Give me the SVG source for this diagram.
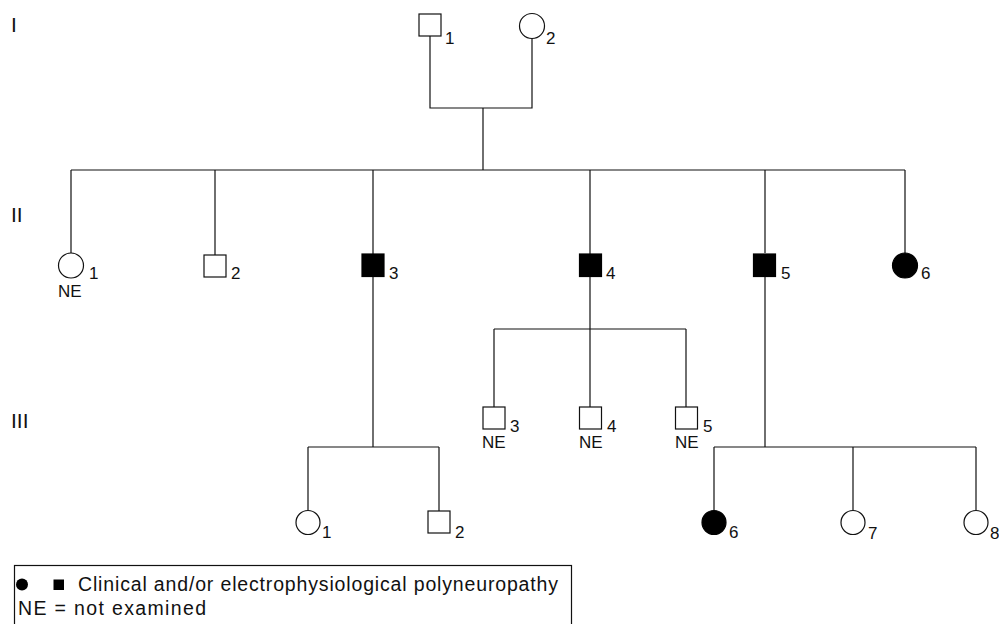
<svg xmlns="http://www.w3.org/2000/svg" width="999" height="624" viewBox="0 0 999 624">
<style>
.ln{stroke:#111;stroke-width:1.2;fill:none}
.o{fill:#fff;stroke:#111;stroke-width:1.2}
.f{fill:#000;stroke:#000;stroke-width:1.2}
text{font-family:"Liberation Sans",Arial,sans-serif;fill:#111}
.lb{font-size:17px}
.gen{font-size:21px}
.lg{font-size:19.5px}
</style>
<rect width="999" height="624" fill="#fff"/>
<g id="generations">
<text class="gen" x="11" y="32">I</text>
<text class="gen" x="11" y="222">II</text>
<text class="gen" x="11" y="428">III</text>
</g>
<g id="connectors">
<path class="ln" d="M430,36V108H532V38M483,108V170M71,170H905M71,170V253M215,170V255M373,170V254M590,170V254M765,170V253M905,170V253"/>
<path class="ln" d="M373,277V447M308,447H439M308,447V510M439,447V511"/>
<path class="ln" d="M590,277V407M494,329H686M494,329V407M686,329V407"/>
<path class="ln" d="M765,277V447M714,447H976M714,447V510M853,447V510M976,447V510"/>
</g>
<g id="I-1"><rect class="o" x="419" y="14" width="22" height="22"/><text class="lb" x="445" y="44">1</text></g>
<g id="I-2"><circle class="o" cx="532" cy="26" r="12.5"/><text class="lb" x="546" y="44">2</text></g>
<g id="II-1"><circle class="o" cx="71" cy="265.5" r="12.5"/><text class="lb" x="89" y="279">1</text><text class="lb" x="58" y="297">NE</text></g>
<g id="II-2"><rect class="o" x="204" y="255" width="22" height="22"/><text class="lb" x="231" y="279">2</text></g>
<g id="II-3"><rect class="f" x="362" y="254" width="22" height="22.5"/><text class="lb" x="389" y="279">3</text></g>
<g id="II-4"><rect class="f" x="579.5" y="254" width="22" height="22.5"/><text class="lb" x="606" y="279">4</text></g>
<g id="II-5"><rect class="f" x="753.5" y="254" width="22" height="22.5"/><text class="lb" x="781" y="279">5</text></g>
<g id="II-6"><circle class="f" cx="905" cy="265.5" r="12.5"/><text class="lb" x="921" y="279">6</text></g>
<g id="III-3"><rect class="o" x="483" y="407" width="22" height="22"/><text class="lb" x="510" y="432">3</text><text class="lb" x="482" y="448">NE</text></g>
<g id="III-4"><rect class="o" x="579.5" y="407" width="22" height="22"/><text class="lb" x="607" y="432">4</text><text class="lb" x="579" y="448">NE</text></g>
<g id="III-5"><rect class="o" x="675.5" y="407" width="22" height="22"/><text class="lb" x="703" y="432">5</text><text class="lb" x="675" y="448">NE</text></g>
<g id="III-1"><circle class="o" cx="308" cy="522.5" r="12"/><text class="lb" x="322" y="538">1</text></g>
<g id="III-2"><rect class="o" x="428" y="511" width="22" height="22"/><text class="lb" x="455" y="538">2</text></g>
<g id="III-6"><circle class="f" cx="714" cy="522.5" r="12"/><text class="lb" x="729" y="538">6</text></g>
<g id="III-7"><circle class="o" cx="853" cy="522.5" r="12"/><text class="lb" x="868" y="539">7</text></g>
<g id="III-8"><circle class="o" cx="976" cy="522.5" r="12"/><text class="lb" x="990" y="539">8</text></g>
<g id="legend">
<rect x="14.5" y="565.5" width="557" height="70" fill="none" stroke="#111" stroke-width="1.2"/>
<circle cx="22" cy="584.5" r="6" fill="#000"/>
<rect x="53.5" y="579.5" width="10.5" height="10.5" fill="#000"/>
<text class="lg" x="78" y="591" textLength="480" lengthAdjust="spacing">Clinical and/or electrophysiological polyneuropathy</text>
<text class="lg" x="18" y="615" textLength="188" lengthAdjust="spacing">NE = not examined</text>
</g>
</svg>
